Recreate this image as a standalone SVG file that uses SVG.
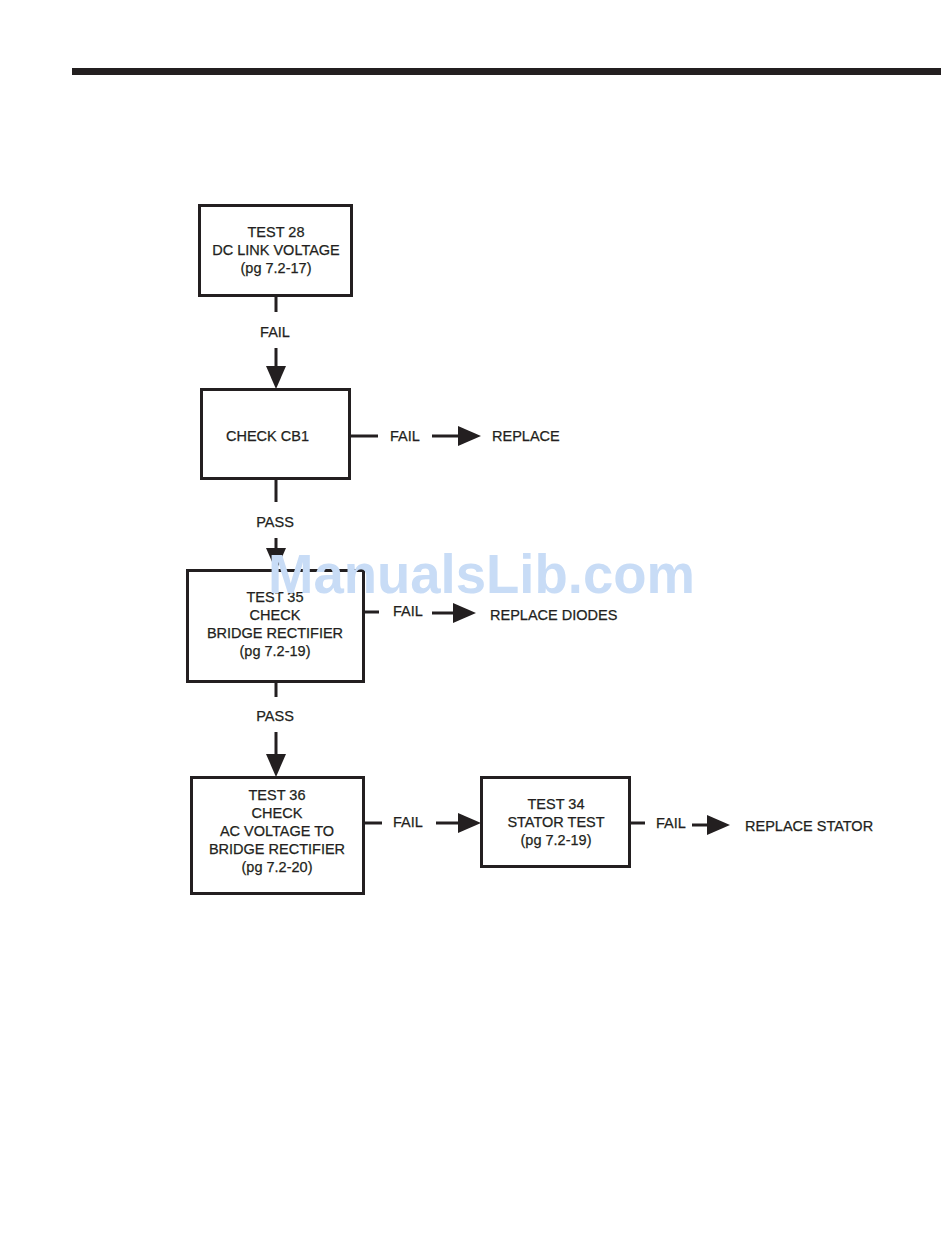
<svg xmlns="http://www.w3.org/2000/svg" width="950" height="1260" viewBox="0 0 950 1260">
<defs>
<style>
.box{fill:#fff;stroke:#231f20;stroke-width:3}
.ln{fill:none;stroke:#231f20;stroke-width:3}
.t{font-family:"Liberation Sans",Arial,sans-serif;font-size:14.5px;fill:#231f20;stroke:#231f20;stroke-width:0.25}
.c{text-anchor:middle}
.wm{font-family:"Liberation Sans",Arial,sans-serif;font-size:55px;font-weight:bold;fill:#c8dcf6}
</style>
<marker id="ah" markerUnits="userSpaceOnUse" markerWidth="23" markerHeight="20" refX="0" refY="10" orient="auto" viewBox="0 0 23 20">
<path d="M0,0 L23,10 L0,20 Z" fill="#231f20"/>
</marker>
</defs>
<rect width="950" height="1260" fill="#fff"/>
<rect x="72" y="68" width="869" height="7" fill="#231f20"/>

<g id="connectors">
<line class="ln" x1="276" y1="296" x2="276" y2="312"/>
<text class="t c" x="275" y="337">FAIL</text>
<line class="ln" x1="276" y1="348" x2="276" y2="366" marker-end="url(#ah)"/>

<line class="ln" x1="350" y1="436" x2="378" y2="436"/>
<text class="t" x="390" y="441">FAIL</text>
<line class="ln" x1="432" y1="436" x2="458" y2="436" marker-end="url(#ah)"/>

<line class="ln" x1="276" y1="479" x2="276" y2="502"/>
<text class="t c" x="275" y="527">PASS</text>
<line class="ln" x1="276" y1="538" x2="276" y2="548" marker-end="url(#ah)"/>

<line class="ln" x1="364" y1="612" x2="379" y2="612"/>
<text class="t" x="393" y="616">FAIL</text>
<line class="ln" x1="432" y1="613" x2="453" y2="613" marker-end="url(#ah)"/>

<line class="ln" x1="276" y1="682" x2="276" y2="697"/>
<text class="t c" x="275" y="721">PASS</text>
<line class="ln" x1="276" y1="732" x2="276" y2="754" marker-end="url(#ah)"/>

<line class="ln" x1="364" y1="823" x2="382" y2="823"/>
<text class="t" x="393" y="827">FAIL</text>
<line class="ln" x1="436" y1="823" x2="458" y2="823" marker-end="url(#ah)"/>

<line class="ln" x1="631" y1="823" x2="645" y2="823"/>
<text class="t" x="656" y="828">FAIL</text>
<line class="ln" x1="692" y1="825" x2="707" y2="825" marker-end="url(#ah)"/>
</g>

<g id="test28">
<rect class="box" x="199.5" y="205.5" width="152" height="90"/>
<text class="t c" x="276" y="237">TEST 28</text>
<text class="t c" x="276" y="255">DC LINK VOLTAGE</text>
<text class="t c" x="276" y="273">(pg 7.2-17)</text>
</g>

<g id="checkcb1">
<rect class="box" x="201.5" y="389.5" width="148" height="89"/>
<text class="t" x="226" y="441">CHECK CB1</text>
</g>

<g id="replace">
<text class="t" x="492" y="441">REPLACE</text>
</g>

<g id="test35">
<rect class="box" x="187.5" y="570.5" width="176" height="111"/>
<text class="t c" x="275" y="602">TEST 35</text>
<text class="t c" x="275" y="620">CHECK</text>
<text class="t c" x="275" y="638">BRIDGE RECTIFIER</text>
<text class="t c" x="275" y="656">(pg 7.2-19)</text>
</g>

<g id="replacediodes">
<text class="t" x="490" y="620">REPLACE DIODES</text>
</g>

<g id="test36">
<rect class="box" x="191.5" y="777.5" width="172" height="116"/>
<text class="t c" x="277" y="800">TEST 36</text>
<text class="t c" x="277" y="818">CHECK</text>
<text class="t c" x="277" y="836">AC VOLTAGE TO</text>
<text class="t c" x="277" y="854">BRIDGE RECTIFIER</text>
<text class="t c" x="277" y="872">(pg 7.2-20)</text>
</g>

<g id="test34">
<rect class="box" x="481.5" y="777.5" width="148" height="89"/>
<text class="t c" x="556" y="809">TEST 34</text>
<text class="t c" x="556" y="827">STATOR TEST</text>
<text class="t c" x="556" y="845">(pg 7.2-19)</text>
</g>

<g id="replacestator">
<text class="t" x="745" y="831">REPLACE STATOR</text>
</g>

<text class="wm" x="268" y="593" textLength="427" lengthAdjust="spacingAndGlyphs">ManualsLib.com</text>
</svg>
